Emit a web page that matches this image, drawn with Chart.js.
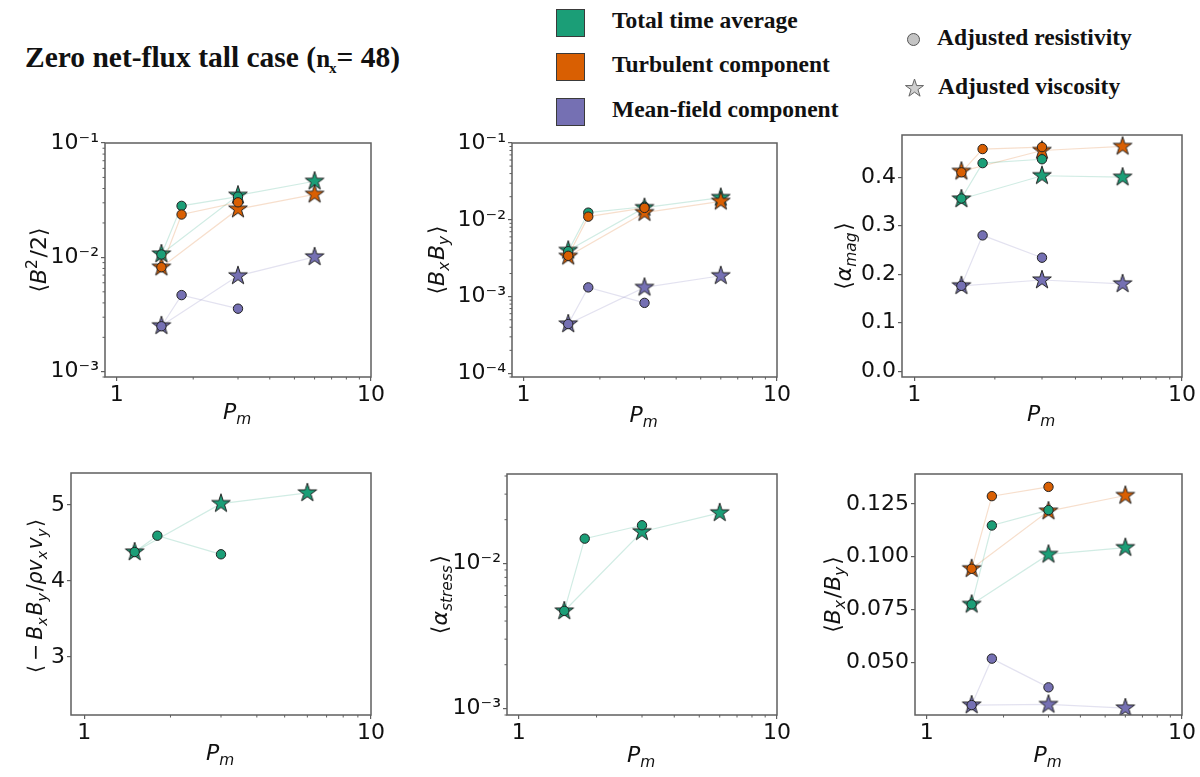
<!DOCTYPE html>
<html><head><meta charset="utf-8">
<script src="https://cdn.jsdelivr.net/npm/chart.js@4.4.0/dist/chart.umd.min.js"></script>
<style>
html,body{margin:0;padding:0;background:#fff;width:1200px;height:777px;overflow:hidden;}
body{position:relative;font-family:'Liberation Serif',serif;color:#111;}
canvas{position:absolute;}
.t{position:absolute;font-weight:bold;white-space:nowrap;line-height:1;}
#title{left:25px;top:43px;font-size:29.5px;}
#title .n{font-size:25px;}
#title .sx{font-size:15px;position:relative;top:6px;margin-left:-1px;}
.lg{font-size:23.5px;}
.sq{position:absolute;left:556px;width:29px;height:28px;border:1px solid #3a3a3a;box-sizing:border-box;}
#lcirc{position:absolute;left:906.5px;top:32.5px;width:13px;height:13px;border-radius:50%;background:#c4c4c4;border:1px solid #555;box-sizing:border-box;}
</style>
</head><body>
<div id="title" class="t">Zero net-flux tall case (<span class="n">n</span><span class="sx">x</span>= 48)</div>
<div class="sq" style="top:9px;background:#1b9e77"></div>
<div class="sq" style="top:53px;background:#d95f02"></div>
<div class="sq" style="top:98px;background:#7570b3"></div>
<div class="t lg" style="left:612px;top:9px">Total time average</div>
<div class="t lg" style="left:612px;top:53px">Turbulent component</div>
<div class="t lg" style="left:612px;top:98px">Mean-field component</div>
<div id="lcirc"></div>
<canvas id="lstar" style="left:902px;top:76px" width="24" height="24"></canvas>
<div class="t lg" style="left:937px;top:26px">Adjusted resistivity</div>
<div class="t lg" style="left:938px;top:75px">Adjusted viscosity</div>
<script>
// ---------------- data ----------------
const xResistivity = [1.5, 1.8, 3];   // circles
const xViscosity   = [1.5, 3, 6];     // stars

// <B^2/2>
const b2TotalRes  = [0.0106, 0.0282, 0.0340];
const b2TotalVisc = [0.0107, 0.0349, 0.0463];
const b2TurbRes   = [0.0082, 0.0237, 0.0303];
const b2TurbVisc  = [0.0082, 0.0264, 0.0356];
const b2MeanRes   = [0.0025, 0.00468, 0.00356];
const b2MeanVisc  = [0.00252, 0.0069, 0.0101];

// <BxBy>
const bxbyTotalRes  = [0.0039, 0.0124, 0.0148];
const bxbyTotalVisc = [0.0040, 0.0144, 0.0195];
const bxbyTurbRes   = [0.0034, 0.0110, 0.0143];
const bxbyTurbVisc  = [0.00335, 0.0124, 0.0174];
const bxbyMeanRes   = [0.00044, 0.00132, 0.00083];
const bxbyMeanVisc  = [0.00044, 0.00132, 0.00187];

// <alpha_mag>
const amagTotalRes  = [0.356, 0.429, 0.437];
const amagTotalVisc = [0.355, 0.403, 0.400];
const amagTurbRes   = [0.410, 0.458, 0.462];
const amagTurbVisc  = [0.412, 0.455, 0.4635];
const amagMeanRes   = [0.176, 0.280, 0.234];
const amagMeanVisc  = [0.176, 0.188, 0.180];

// <-BxBy/rho vx vy>
const ratioTotalRes  = [4.38, 4.595, 4.35];
const ratioTotalVisc = [4.38, 5.017, 5.158];

// <alpha_stress>
const astressTotalRes  = [0.0047, 0.0148, 0.0183];
const astressTotalVisc = [0.00469, 0.0165, 0.0223];

// <Bx/By>
const bxOverByTotalRes  = [0.0774, 0.1148, 0.1221];
const bxOverByTotalVisc = [0.0774, 0.1011, 0.1043];
const bxOverByTurbRes   = [0.0943, 0.1287, 0.1331];
const bxOverByTurbVisc  = [0.0943, 0.1216, 0.1290];
const bxOverByMeanRes   = [0.0297, 0.0517, 0.0381];
const bxOverByMeanVisc  = [0.0297, 0.0300, 0.0283];

// ticks
const xMajorTicks = [1, 10];
const xMinorTicks = [2, 3, 4, 5, 6, 7, 8, 9];
const logMinorSteps = [2, 3, 4, 5, 6, 7, 8, 9];
const yTicksB2 = [1e-3, 1e-2, 1e-1];
const yTicksBxBy = [1e-4, 1e-3, 1e-2, 1e-1];
const yTicksAmag = [0.0, 0.1, 0.2, 0.3, 0.4];
const yTicksRatio = [3, 4, 5];
const yTicksAstress = [1e-3, 1e-2];
const yTicksBxOverBy = [0.050, 0.075, 0.100, 0.125];

// ---------------- style ----------------
const GREEN = '#1b9e77', ORANGE = '#d95f02', PURPLE = '#7570b3';
const LINE = {[GREEN]:'rgba(27,158,119,0.2)', [ORANGE]:'rgba(217,95,2,0.2)', [PURPLE]:'rgba(117,112,179,0.2)'};
const FRAME = '#5f5f5f';
const TICK_FONT = {family:'DejaVu Sans', size:22};
const LABEL_SIZE = 22;

function makeStar(fill, R, stroke, lw) {
  const size = Math.ceil(2 * R + 2 * lw + 2);
  const c = document.createElement('canvas');
  c.width = size; c.height = size;
  const g = c.getContext('2d');
  const cx = size / 2, cy = size / 2;
  g.beginPath();
  for (let k = 0; k < 10; k++) {
    const r = k % 2 === 0 ? R : R * 0.381966;
    const a = -Math.PI / 2 + k * Math.PI / 5;
    g.lineTo(cx + r * Math.cos(a), cy + r * Math.sin(a));
  }
  g.closePath();
  g.fillStyle = fill; g.fill();
  g.lineWidth = lw; g.strokeStyle = stroke; g.lineJoin = 'miter'; g.stroke();
  return c;
}
const STAR = {[GREEN]: makeStar(GREEN, 9.8, '#222', 1), [ORANGE]: makeStar(ORANGE, 9.8, '#222', 1), [PURPLE]: makeStar(PURPLE, 9.8, '#222', 1)};

// legend star
(function(){
  const s = makeStar('#cfcfcf', 9.5, '#666', 1);
  const c = document.getElementById('lstar');
  c.width = s.width; c.height = s.height;
  c.getContext('2d').drawImage(s, 0, 0);
  c.style.left = (914 - s.width / 2) + 'px';
  c.style.top = (88 - s.height / 2) + 'px';
})();

const SUP = {'-':'⁻','0':'⁰','1':'¹','2':'²','3':'³','4':'⁴','5':'⁵'};
function powLabel(v) {
  const e = String(Math.round(Math.log10(v)));
  return '10' + e.split('').map(ch => SUP[ch]).join('');
}

function drawRich(ctx, segs, size, cx, cy, rot) {
  const fam = "'DejaVu Sans'";
  const parts = segs.map(s => {
    const fs = (s.sub || s.sup) ? size * 0.7 : size;
    const font = (s.i ? 'italic ' : '') + fs + 'px ' + fam;
    ctx.font = font;
    const gap = (s.sub || s.sup) ? size * 0.08 : 0;
    return {t: s.t, font, w: ctx.measureText(s.t).width + gap, dy: s.sub ? size * 0.22 : (s.sup ? -size * 0.42 : 0)};
  });
  const total = parts.reduce((a, p) => a + p.w, 0);
  ctx.save();
  ctx.translate(cx, cy); ctx.rotate(rot);
  ctx.textBaseline = 'alphabetic'; ctx.textAlign = 'left'; ctx.fillStyle = '#111';
  let x = -total / 2; const base = size * 0.36;
  for (const p of parts) { ctx.font = p.font; ctx.fillText(p.t, x, base + p.dy); x += p.w; }
  ctx.restore();
}

const decor = {
  id: 'decor',
  afterDraw(chart, args, o) {
    const {ctx, chartArea: a} = chart;
    const sx = chart.scales.x, sy = chart.scales.y;
    ctx.save();
    ctx.strokeStyle = FRAME; ctx.lineWidth = 1;
    ctx.beginPath();
    for (const v of xMinorTicks) {
      const px = sx.getPixelForValue(v);
      ctx.moveTo(px, a.bottom); ctx.lineTo(px, a.bottom + 2.5);
    }
    if (o.yLog) {
      const decades = [o.yMajor[0] / 10].concat(o.yMajor);
      for (const d of decades) for (const m of logMinorSteps) {
        const v = d * m;
        if (v <= sy.max && v >= sy.min) {
          const py = sy.getPixelForValue(v);
          ctx.moveTo(a.left, py); ctx.lineTo(a.left - 2.5, py);
        }
      }
    }
    ctx.stroke();
    ctx.lineWidth = 1.5;
    ctx.strokeRect(a.left, a.top, a.right - a.left, a.bottom - a.top);
    ctx.restore();
    drawRich(ctx, [{t:'P', i:1}, {t:'m', i:1, sub:1}], LABEL_SIZE, (a.left + a.right) / 2, a.bottom + o.xLabelOff, 0);
    drawRich(ctx, o.yLabel, o.yLabelSize || LABEL_SIZE, o.yLabelX, (a.top + a.bottom) / 2 + (o.yLabelDy || 0), -Math.PI / 2);
  }
};

function series(xs, ys, color, marker) { return {xs, ys, color, marker}; }

const panels = [
  {frame:[105,143,371,377], box:[0,115,387,435], yLog:true, yMin:0.0009, yMax:0.1, yMajor:yTicksB2, fmt:powLabel,
   yLabel:[{t:'⟨'},{t:'B',i:1},{t:'2',sup:1},{t:'/2⟩'}], yLabelX:38, xLabelOff:34,
   series:[series(xResistivity,b2TotalRes,GREEN,'c'),series(xViscosity,b2TotalVisc,GREEN,'s'),
           series(xResistivity,b2TurbRes,ORANGE,'c'),series(xViscosity,b2TurbVisc,ORANGE,'s'),
           series(xResistivity,b2MeanRes,PURPLE,'c'),series(xViscosity,b2MeanVisc,PURPLE,'s')]},
  {frame:[512,143,777,377], box:[400,115,793,435], yLog:true, yMin:0.00009, yMax:0.1, yMajor:yTicksBxBy, fmt:powLabel,
   yLabel:[{t:'⟨'},{t:'B',i:1},{t:'x',i:1,sub:1},{t:'B',i:1},{t:'y',i:1,sub:1},{t:'⟩'}], yLabelX:36, xLabelOff:37.5,
   series:[series(xResistivity,bxbyTotalRes,GREEN,'c'),series(xViscosity,bxbyTotalVisc,GREEN,'s'),
           series(xResistivity,bxbyTurbRes,ORANGE,'c'),series(xViscosity,bxbyTurbVisc,ORANGE,'s'),
           series(xResistivity,bxbyMeanRes,PURPLE,'c'),series(xViscosity,bxbyMeanVisc,PURPLE,'s')]},
  {frame:[902,135,1182,377], box:[800,110,1198,435], yLog:false, yMin:-0.012, yMax:0.487, yMajor:yTicksAmag, fmt:v=>v.toFixed(1),
   yLabel:[{t:'⟨'},{t:'α',i:1},{t:'mag',i:1,sub:1},{t:'⟩'}], yLabelX:43, xLabelOff:36,
   series:[series(xResistivity,amagTotalRes,GREEN,'c'),series(xViscosity,amagTotalVisc,GREEN,'s'),
           series(xResistivity,amagTurbRes,ORANGE,'c'),series(xViscosity,amagTurbVisc,ORANGE,'s'),
           series(xResistivity,amagMeanRes,PURPLE,'c'),series(xViscosity,amagMeanVisc,PURPLE,'s')]},
  {frame:[71,473,371,715], box:[0,450,387,777], yLog:false, yMin:2.235, yMax:5.42, yMajor:yTicksRatio, fmt:v=>String(v),
   yLabel:[{t:'⟨\u2009−\u2009'},{t:'B',i:1},{t:'x',i:1,sub:1},{t:'B',i:1},{t:'y',i:1,sub:1},{t:'/'},{t:'ρv',i:1},{t:'x',i:1,sub:1},{t:'v',i:1},{t:'y',i:1,sub:1},{t:'⟩'}],
   yLabelSize:20.5, yLabelX:35, yLabelDy:2, xLabelOff:37,
   series:[series(xResistivity,ratioTotalRes,GREEN,'c'),series(xViscosity,ratioTotalVisc,GREEN,'s')]},
  {frame:[507,474,777,715], box:[400,450,793,777], yLog:true, yMin:0.0009, yMax:0.0413, yMajor:yTicksAstress, fmt:powLabel,
   yLabel:[{t:'⟨'},{t:'α',i:1},{t:'stress',i:1,sub:1},{t:'⟩'}], yLabelX:39, xLabelOff:39.5,
   series:[series(xResistivity,astressTotalRes,GREEN,'c'),series(xViscosity,astressTotalVisc,GREEN,'s')]},
  {frame:[915,474,1182,715], box:[800,450,1198,777], yLog:false, yMin:0.025, yMax:0.1392, yMajor:yTicksBxOverBy, fmt:v=>v.toFixed(3),
   yLabel:[{t:'⟨'},{t:'B',i:1},{t:'x',i:1,sub:1},{t:'/'},{t:'B',i:1},{t:'y',i:1,sub:1},{t:'⟩'}], yLabelX:32, xLabelOff:39,
   series:[series(xResistivity,bxOverByTotalRes,GREEN,'c'),series(xViscosity,bxOverByTotalVisc,GREEN,'s'),
           series(xResistivity,bxOverByTurbRes,ORANGE,'c'),series(xViscosity,bxOverByTurbVisc,ORANGE,'s'),
           series(xResistivity,bxOverByMeanRes,PURPLE,'c'),series(xViscosity,bxOverByMeanVisc,PURPLE,'s')]}
];

const ORDER = {c:{[PURPLE]:0,[ORANGE]:1,[GREEN]:2}, s:{[PURPLE]:3,[ORANGE]:4,[GREEN]:5}};

panels.forEach((p) => {
  const [fl, ft, fr, fb] = p.frame;
  const [bl, bt, br, bb] = p.box;
  const cv = document.createElement('canvas');
  const w = br - bl, h = bb - bt;
  cv.width = w; cv.height = h;
  cv.style.left = bl + 'px'; cv.style.top = bt + 'px';
  cv.style.width = w + 'px'; cv.style.height = h + 'px';
  document.body.appendChild(cv);

  const datasets = p.series.map(s => ({
    data: s.xs.map((x, i) => ({x, y: s.ys[i]})),
    showLine: true,
    borderColor: LINE[s.color],
    borderWidth: 1.2,
    pointStyle: s.marker === 's' ? STAR[s.color] : 'circle',
    pointRadius: s.marker === 's' ? 9.8 : 4.7,
    pointBackgroundColor: s.color,
    pointBorderColor: '#222',
    pointBorderWidth: 1,
    order: ORDER[s.marker][s.color]
  }));

  new Chart(cv, {
    type: 'scatter',
    data: {datasets},
    options: {
      responsive: false, animation: false, devicePixelRatio: window.devicePixelRatio || 1,
      layout: {padding: {left: 0, top: ft - bt, right: br - fr, bottom: 0}},
      plugins: {legend: {display: false}, tooltip: {enabled: false}, decor: p},
      events: [],
      scales: {
        x: {
          type: 'logarithmic', min: 0.9, max: 10,
          afterBuildTicks: s => { s.ticks = xMajorTicks.map(v => ({value: v, major: true})); },
          afterFit: s => { s.height = bb - fb; },
          ticks: {callback: v => String(v), font: TICK_FONT, color: '#111', padding: 1, maxRotation: 0, autoSkip: false},
          grid: {display: true, drawOnChartArea: false, drawTicks: true, tickLength: 4, color: FRAME, lineWidth: 1.2},
          border: {display: false}
        },
        y: {
          type: p.yLog ? 'logarithmic' : 'linear', min: p.yMin, max: p.yMax,
          afterBuildTicks: s => { s.ticks = p.yMajor.map(v => ({value: v, major: true})); },
          afterFit: s => { s.width = fl - bl; },
          ticks: {callback: v => p.fmt(v), font: TICK_FONT, color: '#111', padding: 2, autoSkip: false},
          grid: {display: true, drawOnChartArea: false, drawTicks: true, tickLength: 4, color: FRAME, lineWidth: 1.2},
          border: {display: false}
        }
      }
    },
    plugins: [decor]
  });
});
</script>
</body></html>
